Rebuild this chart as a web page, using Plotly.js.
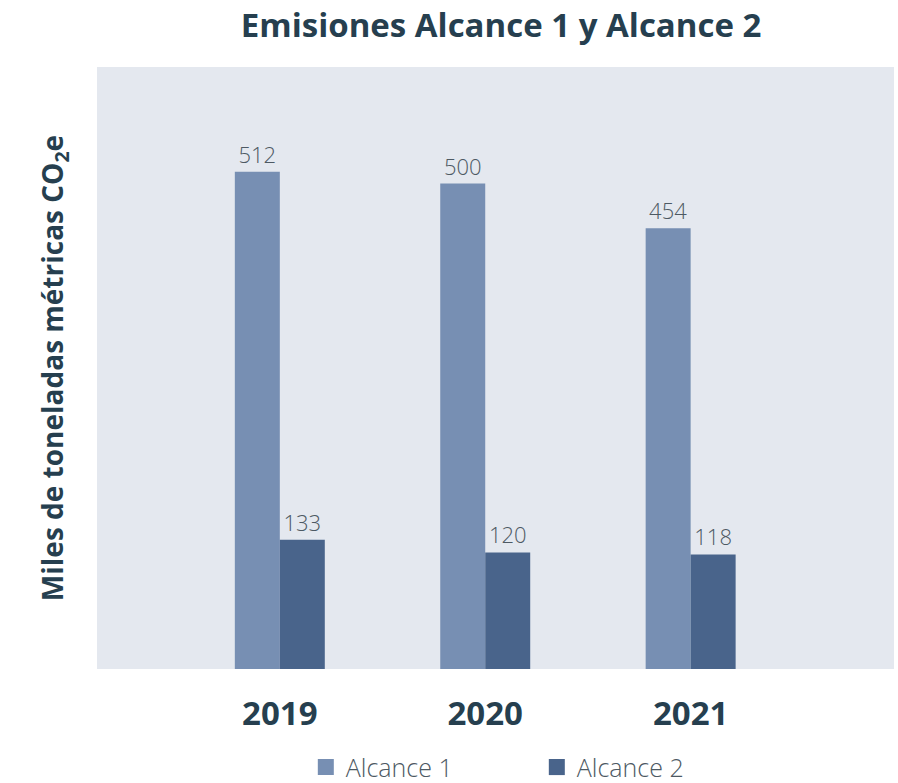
<!DOCTYPE html>
<html>
<head>
<meta charset="utf-8">
<script src="https://cdn.plot.ly/plotly-3.0.1.min.js"></script>
<style>
  html, body { margin: 0; padding: 0; background: #fff; }
  #graph { width: 898px; height: 783px; }
</style>
</head>
<body>
<div id="graph"></div>
<script>
const years = ['2019', '2020', '2021'];
const alcance1 = [512, 500, 454];
const alcance2 = [133, 120, 118];
const seriesNames = ['Alcance 1', 'Alcance 2'];
const seriesColors = ['#778fb3', '#49648b'];

const labelFont = { family: 'Open Sans, sans-serif', size: 22, color: '#4d5963', weight: 300 };

const bars = [alcance1, alcance2].map((vals, i) => ({
  type: 'bar', x: years, y: vals, name: seriesNames[i],
  marker: { color: seriesColors[i] },
  text: vals.map(String), textposition: 'outside', cliponaxis: false,
  textfont: labelFont, showlegend: false
}));

// legend-only entries with bigger square swatches
const keys = seriesNames.map((n, i) => ({
  type: 'scatter', mode: 'markers', x: [null], y: [null], name: n,
  marker: { symbol: 'square', size: 17, color: seriesColors[i] }
}));

Plotly.newPlot('graph', bars.concat(keys), {
  width: 898,
  height: 783,
  margin: { l: 97, r: 4, t: 67, b: 114 },
  paper_bgcolor: '#ffffff',
  plot_bgcolor: '#e4e8ef',
  barmode: 'group',
  bargap: 0.562,
  bargroupgap: 0,
  title: {
    text: 'Emisiones Alcance 1 y Alcance 2',
    x: 0.558, xanchor: 'center', y: 0.968, yanchor: 'middle',
    font: { family: 'Open Sans, sans-serif', size: 33, color: '#263f4f', weight: 700 }
  },
  xaxis: {
    type: 'category',
    range: [-0.89, 2.99],
    showgrid: false, zeroline: false, showline: false, ticks: '',
    tickfont: { family: 'Open Sans, sans-serif', size: 33, color: '#263f4f', weight: 700 },
    ticklabelstandoff: 22
  },
  yaxis: {
    range: [0, 620],
    showgrid: false, zeroline: false, showline: false, showticklabels: false, ticks: '',
    title: {
      text: 'Miles de toneladas métricas CO<sub>2</sub>e',
      standoff: 24,
      font: { family: 'Open Sans, sans-serif', size: 28, color: '#263f4f', weight: 700 }
    }
  },
  showlegend: true,
  legend: {
    orientation: 'h',
    x: 0.262, xanchor: 'left',
    yref: 'container', y: 0.02, yanchor: 'middle',
    entrywidth: 186,
    font: { family: 'Open Sans, sans-serif', size: 25, color: '#4d5963', weight: 300 },
    traceorder: 'normal'
  }
}, { displayModeBar: false, staticPlot: true });
</script>
</body>
</html>
